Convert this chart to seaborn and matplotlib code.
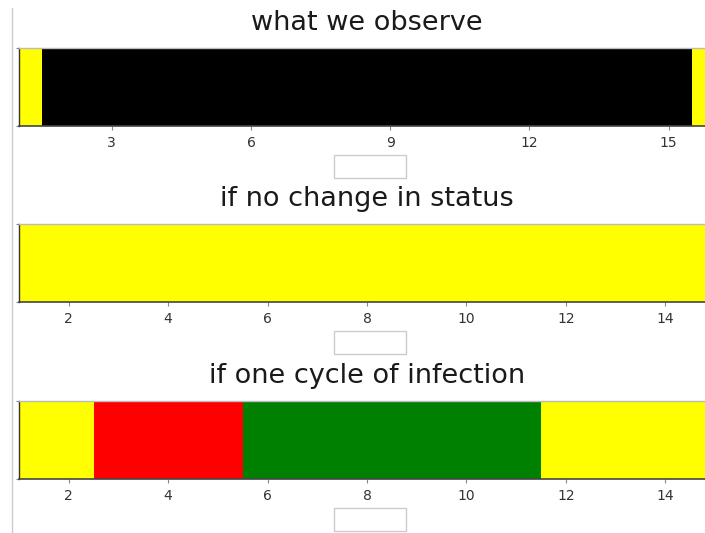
import numpy as np
import pandas as pd
import seaborn as sns
import matplotlib.pyplot as plt
from matplotlib.colors import ListedColormap
from matplotlib.patches import Rectangle
from matplotlib.lines import Line2D

# status codes: 0 = susceptible (yellow), 1 = observed (black), 2 = infected (red), 3 = recovered (green)
status_colors = ["#ffff00", "#000000", "#ff0000", "#008000"]

titles = ["what we observe", "if no change in status", "if one cycle of infection"]

observed_time = list(range(1, 17))
observed_status = [0] + [1] * 14 + [0]

no_change_time = list(range(1, 16))
no_change_status = [0] * 15

one_cycle_time = list(range(1, 16))
one_cycle_status = [0, 0, 2, 2, 2, 3, 3, 3, 3, 3, 3, 0, 0, 0, 0]

panels = [
    (observed_time, observed_status, [3, 6, 9, 12, 15]),
    (no_change_time, no_change_status, [2, 4, 6, 8, 10, 12, 14]),
    (one_cycle_time, one_cycle_status, [2, 4, 6, 8, 10, 12, 14]),
]

sns.set_theme(style="white")
plt.rcParams["font.family"] = ["DejaVu Sans"]

fig = plt.figure(figsize=(7.05, 5.33), dpi=100)
cmap = ListedColormap(status_colors)

# axes boxes (left, bottom, width, height) in figure fraction
bottoms = [0.7636, 0.4334, 0.1013]
left, width, height = 0.02695, 0.9872, 0.1463

for (times, status, ticks), title, bottom in zip(panels, titles, bottoms):
    ax = fig.add_axes([left, bottom, width, height])
    df = pd.DataFrame([status], columns=times)
    sns.heatmap(df, ax=ax, cmap=cmap, vmin=-0.5, vmax=3.5, cbar=False,
                xticklabels=False, yticklabels=False)
    # cell for time t spans t-0.5 .. t+0.5, axis shows t = first .. last
    ax.set_xlim(0.5, len(times) - 0.5)
    ax.set_ylim(1, 0)
    ax.set_xticks([t - 0.5 for t in ticks])
    ax.set_xticklabels([str(t) for t in ticks], rotation=0)
    ax.set_yticks([0, 1])
    ax.set_yticklabels([])
    ax.tick_params(axis="x", length=3, width=0.8, color="#888888",
                   labelsize=10, labelcolor="#333333", pad=4, bottom=True)
    ax.tick_params(axis="y", length=2, width=0.8, color="#888888", left=True)
    ax.set_xlabel("")
    ax.set_ylabel("")
    ax.set_title(title, fontsize=19.5, color="#1a1a1a", pad=13)
    for side in ["left", "bottom", "top", "right"]:
        ax.spines[side].set_visible(True)
    ax.spines["left"].set_color("#333333")
    ax.spines["left"].set_linewidth(1.0)
    ax.spines["bottom"].set_color("#444444")
    ax.spines["bottom"].set_linewidth(1.2)
    ax.spines["top"].set_color("#bbbbbb")
    ax.spines["top"].set_linewidth(1.0)
    # empty legend frame below each panel
    ax.add_patch(Rectangle((0.4526, -0.667), 0.1034, 0.295, transform=ax.transAxes,
                           facecolor="white", edgecolor="#cccccc", lw=1.0,
                           clip_on=False))

# thin page edge on the left
fig.add_artist(Line2D([0.0175, 0.0175], [0.0, 0.985], color="#cccccc", lw=1.0))

fig.savefig("out.png", dpi=100)
